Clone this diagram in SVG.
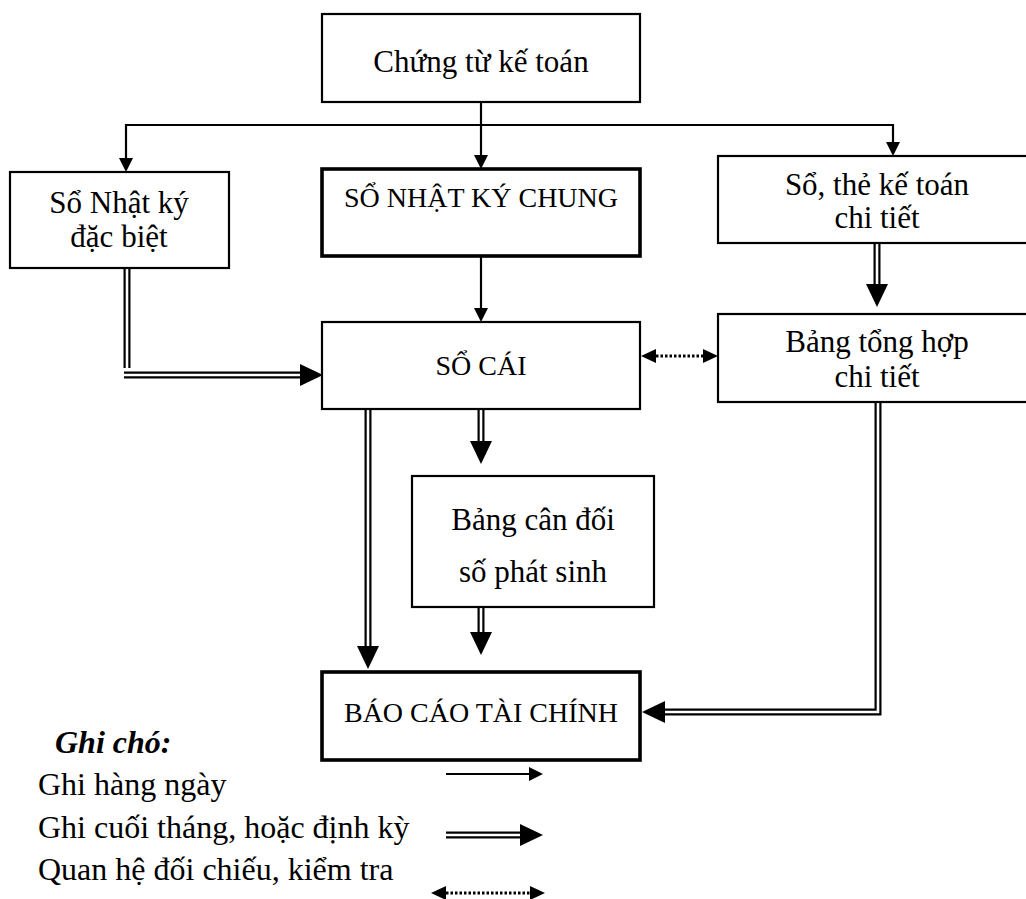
<svg xmlns="http://www.w3.org/2000/svg" width="1026" height="899" viewBox="0 0 1026 899">
<style>
text{font-family:"Liberation Serif","Times New Roman",serif;fill:#000}
.t{font-size:31px;text-anchor:middle}
.u{font-size:28px;text-anchor:middle}
.lg{font-size:32px}
.box{fill:#fff;stroke:#000;stroke-width:2.2}
.thick{fill:#fff;stroke:#000;stroke-width:3.6}
.s{fill:none;stroke:#000;stroke-width:2.2}
.do{fill:none;stroke:#000;stroke-width:7}
.di{fill:none;stroke:#fff;stroke-width:2.6}
.dot{fill:none;stroke:#000;stroke-width:3;stroke-dasharray:2.5 2}
</style>
<defs>
<marker id="aS" markerUnits="userSpaceOnUse" viewBox="0 0 14 14" refX="0" refY="7" markerWidth="14" markerHeight="14" orient="auto" overflow="visible"><path d="M0,0 L14,7 L0,14 z" fill="#000"/></marker>
<marker id="aD" markerUnits="userSpaceOnUse" viewBox="0 0 23 22" refX="0" refY="11" markerWidth="23" markerHeight="22" orient="auto" overflow="visible"><path d="M0,0 L23,11 L0,22 z" fill="#000"/></marker>
<marker id="aT" markerUnits="userSpaceOnUse" viewBox="0 0 15 14" refX="0" refY="7" markerWidth="15" markerHeight="14" orient="auto" overflow="visible"><path d="M0,0 L15,7 L0,14 z" fill="#000"/></marker>
<marker id="aTs" markerUnits="userSpaceOnUse" viewBox="0 0 15 14" refX="0" refY="7" markerWidth="15" markerHeight="14" orient="auto-start-reverse" overflow="visible"><path d="M0,0 L15,7 L0,14 z" fill="#000"/></marker>
</defs>

<g id="connectors">
  <path class="s" d="M126,125 H893"/>
  <path class="s" d="M481,102 V155" marker-end="url(#aS)"/>
  <path class="s" d="M126,124 V158" marker-end="url(#aS)"/>
  <path class="s" d="M893,124 V142" marker-end="url(#aS)"/>
  <path class="s" d="M481,256 V308" marker-end="url(#aS)"/>
  <path class="do" d="M127,268 V368"/><path class="di" d="M127,268 V368"/>
  <path class="do" d="M124,375 H300" marker-end="url(#aD)"/><path class="di" d="M124,375 H300"/>
  <path class="do" d="M877,243 V284" marker-end="url(#aD)"/><path class="di" d="M877,243 V284"/>
  <path class="do" d="M368,409 V646" marker-end="url(#aD)"/><path class="di" d="M368,409 V646"/>
  <path class="do" d="M481,409 V441" marker-end="url(#aD)"/><path class="di" d="M481,409 V441"/>
  <path class="do" d="M481,607 V632" marker-end="url(#aD)"/><path class="di" d="M481,607 V632"/>
  <path class="do" d="M878,402 V712 H665" marker-end="url(#aD)"/><path class="di" d="M878,402 V712 H665"/>
  <path class="dot" d="M656,356 H703" marker-start="url(#aTs)" marker-end="url(#aT)"/>
</g>

<g id="n-chungtu"><rect class="box" x="322" y="14" width="318" height="88"/><text class="t" x="481" y="72">Chứng từ kế toán</text></g>
<g id="n-nkdb"><rect class="box" x="10" y="172" width="219" height="96"/><text class="t" x="119" y="213">Sổ Nhật ký</text><text class="t" x="119" y="247">đặc biệt</text></g>
<g id="n-nkc"><rect class="thick" x="322" y="169" width="318" height="87"/><text class="u" x="481" y="207">SỔ NHẬT KÝ CHUNG</text></g>
<g id="n-sothe"><rect class="box" x="718" y="156" width="330" height="87"/><text class="t" x="877" y="195">Sổ, thẻ kế toán</text><text class="t" x="877" y="228">chi tiết</text></g>
<g id="n-socai"><rect class="box" x="322" y="322" width="318" height="87"/><text class="u" x="481" y="375">SỔ CÁI</text></g>
<g id="n-bangth"><rect class="box" x="718" y="314" width="330" height="88"/><text class="t" x="877" y="352">Bảng tổng hợp</text><text class="t" x="877" y="387">chi tiết</text></g>
<g id="n-bangcd"><rect class="box" x="412" y="476" width="242" height="131"/><text class="t" x="533" y="530">Bảng cân đối</text><text class="t" x="533" y="582">số phát sinh</text></g>
<g id="n-bctc"><rect class="thick" x="322" y="672" width="318" height="88"/><text class="u" x="481" y="722">BÁO CÁO TÀI CHÍNH</text></g>

<g id="legend">
  <text class="lg" x="55" y="753" font-weight="bold" font-style="italic">Ghi chó:</text>
  <text class="lg" x="38" y="795">Ghi hàng ngày</text>
  <text class="lg" x="38" y="838">Ghi cuối tháng, hoặc định kỳ</text>
  <text class="lg" x="38" y="880">Quan hệ đối chiếu, kiểm tra</text>
  <path class="s" d="M446,774 H529" marker-end="url(#aS)"/>
  <path class="do" d="M446,835 H520" marker-end="url(#aD)"/><path class="di" d="M446,835 H520"/>
  <path class="dot" d="M446,893 H530" marker-start="url(#aTs)" marker-end="url(#aT)"/>
</g>
</svg>
